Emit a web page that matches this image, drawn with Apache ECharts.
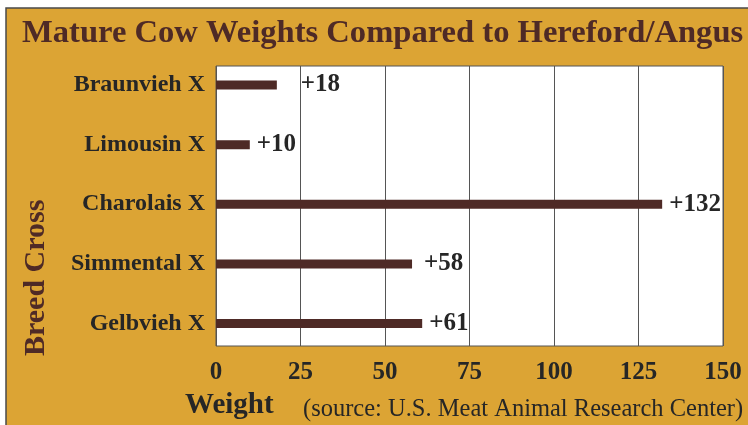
<!DOCTYPE html>
<html>
<head>
<meta charset="utf-8">
<script src="https://cdn.jsdelivr.net/npm/echarts@6/dist/echarts.min.js"></script>
<style>
  html, body { margin: 0; padding: 0; background: #fff; }
  #chart { width: 748px; height: 425px; }
</style>
</head>
<body>
<div id="chart"></div>
<script>
// data
var breeds = ["Braunvieh X", "Limousin X", "Charolais X", "Simmental X", "Gelbvieh X"];
var weights = [18, 10, 132, 58, 61];
var ticks = [0, 25, 50, 75, 100, 125, 150];

var gold = "#DCA434";
var brown = "#4E2A26";
var ink = "#262626";
var serif = "Liberation Serif";

var chart = echarts.init(document.getElementById("chart"));

// label gap is not the same on every bar in the original
var labelGap = { "Braunvieh X": 24, "Simmental X": 12 };

var barData = breeds.map(function (b, i) {
  var item = { value: weights[i] };
  if (labelGap[b]) item.label = { distance: labelGap[b] };
  return item;
});

var option = {
  backgroundColor: "transparent",
  animation: false,
  graphic: [
    {
      // gold frame
      type: "rect",
      z: -10,
      shape: { x: 6, y: 8, width: 760, height: 440 },
      style: { fill: gold, stroke: "#4a4a4a", lineWidth: 1.5 }
    },
    {
      type: "text",
      rotation: Math.PI / 2,
      x: 21, y: 356,
      style: {
        text: "Breed Cross",
        font: "bold 30px '" + serif + "'",
        fill: brown
      }
    }
  ],
  title: [
    {
      text: "Mature Cow Weights Compared to Hereford/Angus",
      left: 22, top: 17, padding: 0,
      textStyle: { fontFamily: serif, fontWeight: "bold", fontSize: 32.6, color: brown }
    },
    {
      text: "Weight",
      left: 185, top: 391, padding: 0,
      textStyle: { fontFamily: serif, fontWeight: "bold", fontSize: 29, color: ink }
    },
    {
      text: "(source: U.S. Meat Animal Research Center)",
      left: 303, top: 397, padding: 0,
      textStyle: { fontFamily: serif, fontWeight: "normal", fontSize: 24.5, color: ink }
    }
  ],
  grid: [
    {
      left: 216, top: 66, width: 507, height: 280,
      show: true, backgroundColor: "#fff", borderColor: "#555", borderWidth: 1
    },
    { left: 216, top: 85, width: 507, height: 238.5 }
  ],
  xAxis: [
    {
      gridIndex: 0, type: "value", min: 0, max: 150, interval: 25,
      axisLine: { show: false }, axisTick: { show: false },
      splitLine: { show: true, lineStyle: { color: "#555", width: 1 } },
      axisLabel: {
        margin: 14, fontFamily: serif, fontWeight: "bold", fontSize: 25, color: ink,
        formatter: function (v) { return ticks.indexOf(v) >= 0 ? String(v) : ""; }
      }
    },
    {
      gridIndex: 1, type: "value", min: 0, max: 150, show: false,
      splitLine: { show: false }
    }
  ],
  yAxis: [
    { gridIndex: 0, type: "value", show: false, splitLine: { show: false } },
    {
      gridIndex: 1, type: "category", data: breeds, inverse: true, boundaryGap: false,
      axisLine: { show: false }, axisTick: { show: false }, splitLine: { show: false },
      axisLabel: { margin: 11, fontFamily: serif, fontWeight: "bold", fontSize: 24, color: ink }
    }
  ],
  series: [
    {
      type: "bar",
      xAxisIndex: 1, yAxisIndex: 1,
      data: barData,
      barWidth: 9,
      itemStyle: { color: brown },
      label: {
        show: true, position: "right", distance: 7,
        formatter: "+{c}",
        fontFamily: serif, fontWeight: "bold", fontSize: 25, color: ink
      }
    }
  ]
};

chart.setOption(option);
</script>
</body>
</html>
